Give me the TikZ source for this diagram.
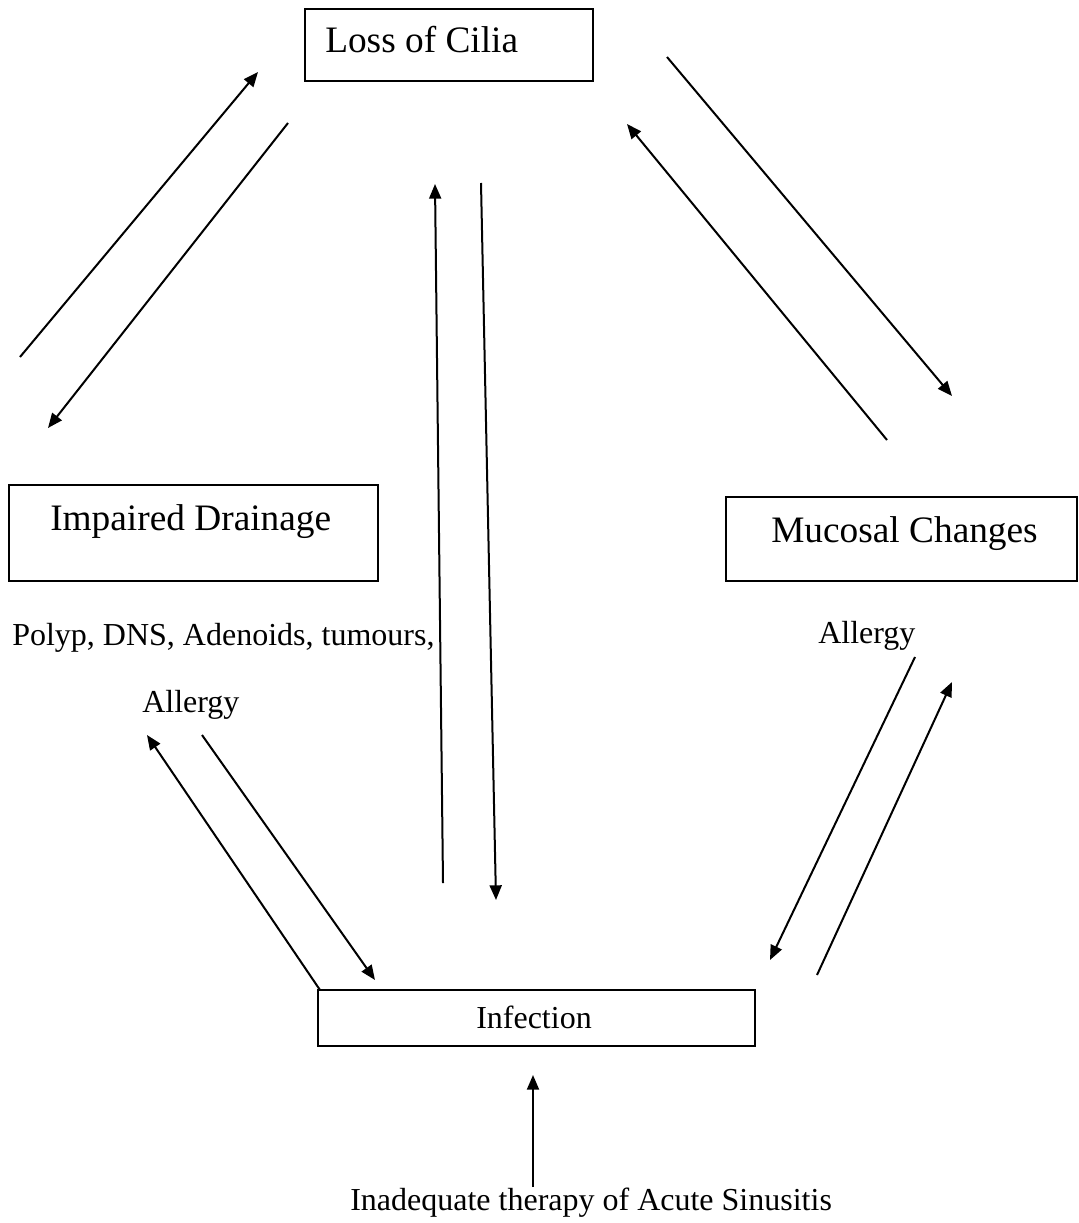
\documentclass[tikz,border=0pt]{standalone}
\usepackage{fontspec}
\setmainfont{Liberation Serif}
\usetikzlibrary{arrows.meta,positioning}

\tikzset{
  box/.style={draw, line width=1.4pt, inner sep=0pt},
  title/.style={font=\fontsize{28}{32}\selectfont, inner sep=0pt},
  small/.style={font=\fontsize{24}{28}\selectfont, inner sep=0pt},
  arr/.style={line width=1.5pt, -{Triangle[length=11pt,width=9pt]}}
}

\begin{document}
\begin{tikzpicture}[x=0.75pt,y=-0.75pt]
    \useasboundingbox (0,0) rectangle (1078,1223);

    % boxes
    \node[box, minimum width=288*0.75pt, minimum height=72*0.75pt] (cilia) at (449,45) {};
    \node[box, minimum width=369*0.75pt, minimum height=96*0.75pt] (drain) at (193.5,533) {};
    \node[box, minimum width=351*0.75pt, minimum height=84*0.75pt] (mucosa) at (901.5,539) {};
    \node[box, minimum width=437*0.75pt, minimum height=56*0.75pt] (infect) at (536.5,1018) {};

    % texts
    \node[title, anchor=base west] (ciliatxt) at (325,53) {Loss of Cilia};
    \node[title, anchor=base west] (draintxt) at (50,530) {Impaired Drainage};
    \node[title, anchor=base west] (mucosatxt) at (771,542) {Mucosal Changes};
    \node[small, anchor=base] (infecttxt) at (534,1028) {Infection};
    \node[small, anchor=base west] (causes) at (12,645) {Polyp, DNS, Adenoids, tumours,};
    \node[small, anchor=base west] (allergyl) at (142,712) {Allergy};
    \node[small, anchor=base west] (allergyr) at (818,643) {Allergy};
    \node[small, anchor=base west] (therapy) at (350,1210) {Inadequate therapy of Acute Sinusitis};

    % arrow ends
    \foreach \n/\x/\y in {a1/20/357, b1/258/72, a2/288/123, b2/48/428,
                          a3/443/883, b3/435/184, a4/481/183, b4/496/900,
                          a5/667/57, b5/952/396, a6/887/440, b6/627/124,
                          a7/320/990, b7/147/735, a8/202/735, b8/375/980,
                          a9/915/657, b9/770/960, a10/817/975, b10/952/682,
                          a11/533/1187, b11/533/1075}
        \coordinate (\n) at (\x,\y);

    \foreach \i in {1,...,11}
        \draw[arr] (a\i) -- (b\i);
\end{tikzpicture}
\end{document}
